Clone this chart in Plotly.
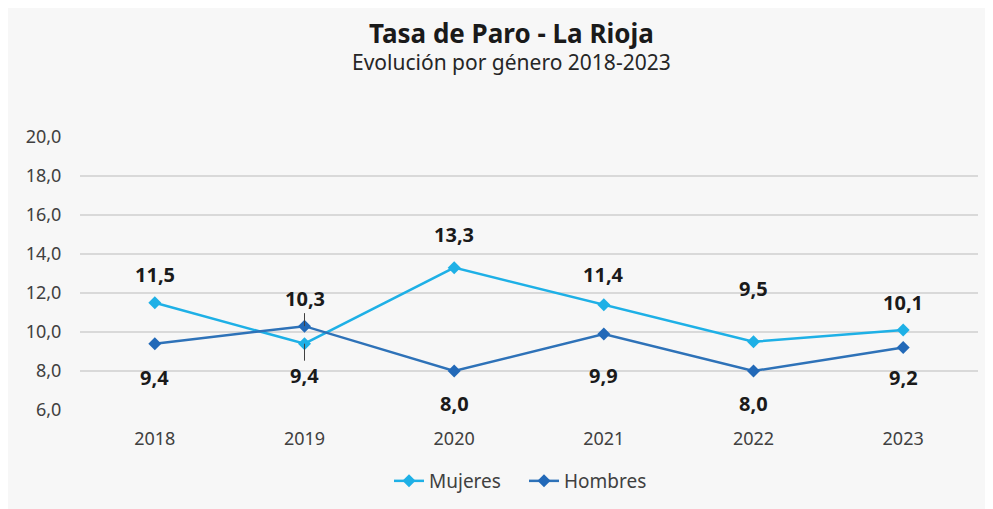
import plotly.graph_objects as go

years = ["2018", "2019", "2020", "2021", "2022", "2023"]
mujeres = [11.5, 9.4, 13.3, 11.4, 9.5, 10.1]
hombres = [9.4, 10.3, 8.0, 9.9, 8.0, 9.2]

# label offsets in pixels (negative = above), and whether a leader line is drawn
muj_off = [-28, 32, -33, -30, -53, -28]
hom_off = [34, -28, 32, 42, 32, 30]
muj_lead = [False, True, False, False, False, False]
hom_lead = [False, True, False, False, False, False]

C_MUJ = "#1eb0e6"
C_HOM = "#2e72b8"
FONT = "Noto Sans"

# figure is rendered with an 8px page margin, so it is sized to fit the window
W, H = 985, 501
L, R, T, B = 72, 15, 129, 99
pw, ph = W - L - R, H - T - B

fig = go.Figure()
fig.add_trace(go.Scatter(x=years, y=mujeres, name="Mujeres", mode="lines+markers",
                         line=dict(color=C_MUJ, width=2.5),
                         marker=dict(symbol="diamond", size=10, color=C_MUJ)))
fig.add_trace(go.Scatter(x=years, y=hombres, name="Hombres", mode="lines+markers",
                         line=dict(color=C_HOM, width=2.5),
                         marker=dict(symbol="diamond", size=10, color="#2269b8")))

def fmt(v):
    return f"{v:.1f}".replace(".", ",")

annotations = []
for vals, offs, leads in ((mujeres, muj_off, muj_lead), (hombres, hom_off, hom_lead)):
    for i, (v, o, ld) in enumerate(zip(vals, offs, leads)):
        annotations.append(dict(
            x=i, y=v, xref="x", yref="y", text=f"<b>{fmt(v)}</b>",
            showarrow=True, ax=0, ay=o, arrowhead=0, arrowwidth=1,
            arrowcolor="#404040" if ld else "rgba(0,0,0,0)", standoff=0,
            font=dict(family=FONT, size=20, color="#1a1a1a")))

cx = (503 - L) / pw
annotations.append(dict(text="<b>Tasa de Paro - La Rioja</b>", x=cx,
                        y=(H - B - 25) / ph, xref="paper", yref="paper", yanchor="middle",
                        showarrow=False, font=dict(family=FONT, size=26, color="#1a1a1a")))
annotations.append(dict(text="Evolución por género 2018-2023", x=cx,
                        y=(H - B - 54) / ph, xref="paper", yref="paper", yanchor="middle",
                        showarrow=False, font=dict(family=FONT, size=21, color="#262626")))

fig.update_layout(
    width=W, height=H,
    margin=dict(l=L, r=R, t=T, b=B, autoexpand=False),
    paper_bgcolor="#f7f7f7", plot_bgcolor="#f7f7f7",
    separators=",.",
    font=dict(family=FONT, size=18, color="#404040"),
    showlegend=True,
    legend=dict(orientation="h", x=(516 - L) / pw, xanchor="center",
                y=-(473 - (H - B)) / ph, yanchor="middle", entrywidth=90,
                font=dict(family=FONT, size=19, color="#404040")),
    annotations=annotations,
)
fig.update_xaxes(type="category", range=[-0.5, 5.5], showgrid=False, showline=False,
                 ticks="outside", ticklen=12, tickcolor="rgba(0,0,0,0)",
                 tickfont=dict(size=18))
fig.update_yaxes(range=[6, 20], dtick=2, tickformat=".1f", showgrid=True,
                 gridcolor="#d9d9d9", gridwidth=1.5, zeroline=False, showline=False,
                 ticks="outside", ticklen=14, tickcolor="rgba(0,0,0,0)",
                 tickfont=dict(size=18))

fig.write_html("out.html")
